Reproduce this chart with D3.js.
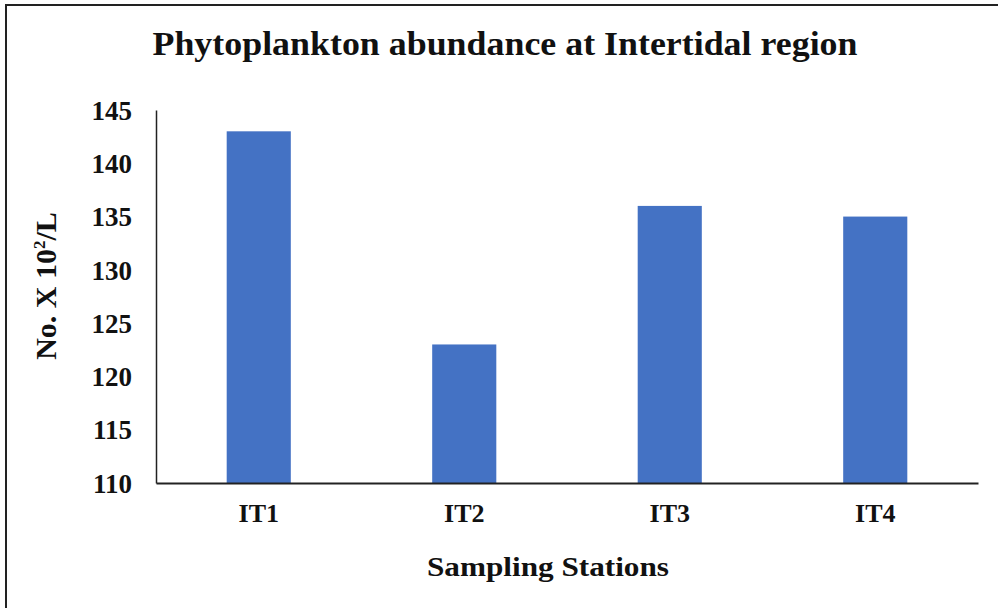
<!DOCTYPE html>
<html>
<head>
<meta charset="utf-8">
<script src="https://cdn.jsdelivr.net/npm/d3@7"></script>
<style>
  html, body { margin: 0; padding: 0; background: #ffffff; }
  svg { display: block; }
  text { font-family: "Liberation Serif", "Times New Roman", serif; font-weight: bold; fill: #111; }
</style>
</head>
<body>
<script>
const categories = ["IT1", "IT2", "IT3", "IT4"];
const values = [143, 123, 136, 135];
const yTicks = [110, 115, 120, 125, 130, 135, 140, 145];
const titleText = "Phytoplankton  abundance at Intertidal  region";
const xLabel = "Sampling Stations";

const W = 998, H = 608;
const svg = d3.select("body").append("svg").attr("width", W).attr("height", H);

svg.append("rect").attr("width", W).attr("height", H).attr("fill", "#fff");
// outer frame (left/top visible)
svg.append("rect").attr("x", 6).attr("y", 5).attr("width", W + 10).attr("height", H + 10)
  .attr("fill", "none").attr("stroke", "#222").attr("stroke-width", 2);

const x = d3.scaleBand().domain(categories).range([156, 978]).paddingInner(0.688).paddingOuter(0.344);
const y = d3.scaleLinear().domain([110, 145]).range([483, 110]);

// bars
svg.append("g").selectAll("rect").data(categories).join("rect")
  .attr("x", d => x(d))
  .attr("width", x.bandwidth())
  .attr("y", (d, i) => y(values[i]))
  .attr("height", (d, i) => y(110) - y(values[i]))
  .attr("fill", "#4472C4");

// y axis
const ya = svg.append("g").attr("transform", "translate(156,0)")
  .call(d3.axisLeft(y).tickValues(yTicks).tickSize(0).tickSizeOuter(0).tickPadding(24));
ya.select(".domain").attr("stroke", "#222").attr("stroke-width", 1.5);
ya.selectAll("text").attr("font-size", 27).attr("font-family", "Liberation Serif, Times New Roman, serif")
  .attr("font-weight", "bold").attr("fill", "#111").attr("dy", "0.34em");

// x axis
const xa = svg.append("g").attr("transform", "translate(0,483)")
  .call(d3.axisBottom(x).tickSize(0).tickSizeOuter(0).tickPadding(21));
xa.select(".domain").attr("stroke", "#222").attr("stroke-width", 2);
xa.selectAll("text").attr("font-size", 26).attr("font-family", "Liberation Serif, Times New Roman, serif")
  .attr("font-weight", "bold").attr("fill", "#111").attr("dy", "0.71em");

// title
svg.append("text").attr("x", 505).attr("y", 55).attr("text-anchor", "middle")
  .attr("font-size", 34).attr("textLength", 705).attr("lengthAdjust", "spacingAndGlyphs")
  .text(titleText);

// x label
svg.append("text").attr("x", 548).attr("y", 576).attr("text-anchor", "middle")
  .attr("font-size", 28).attr("textLength", 242).attr("lengthAdjust", "spacingAndGlyphs")
  .text(xLabel);

// y label
const yl = svg.append("text").attr("transform", "translate(56,286) rotate(-90)")
  .attr("text-anchor", "middle").attr("font-size", 30);
yl.append("tspan").text("No. X 10");
yl.append("tspan").attr("font-size", 17).attr("dy", -11).text("2");
yl.append("tspan").attr("dy", 11).text("/L");
</script>
</body>
</html>
